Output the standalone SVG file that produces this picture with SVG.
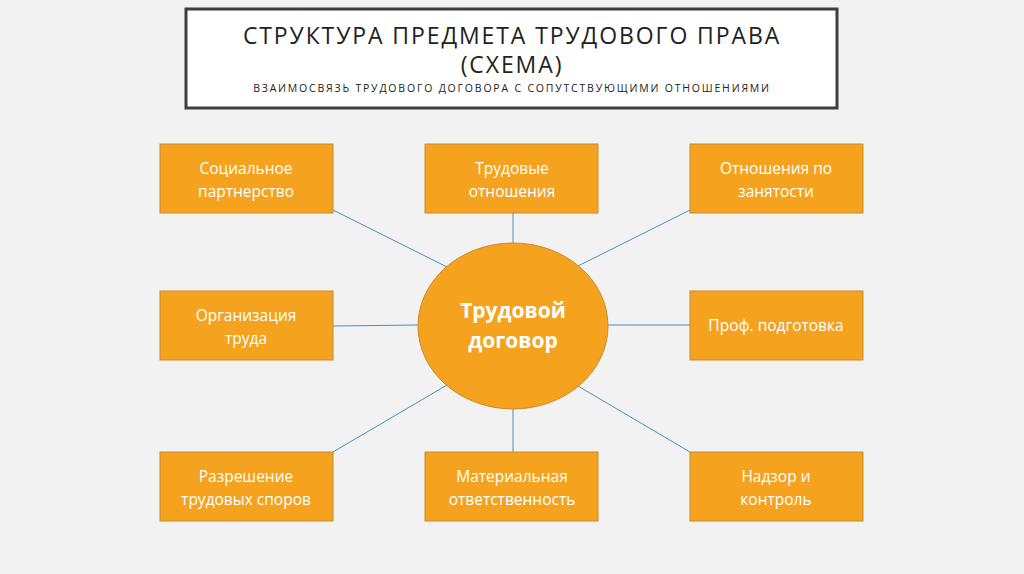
<svg xmlns="http://www.w3.org/2000/svg" width="1024" height="574" viewBox="0 0 1024 574">
<style>
.b{fill:#f5a31f;stroke:#c98a2a;stroke-width:1}
.t{font-family:"Open Sans",sans-serif;font-size:15.5px;fill:#fff;text-anchor:middle}
.c line{stroke:#4a90c0;stroke-width:1}
</style>
<rect width="1024" height="574" fill="#f2f2f2"/>
<g id="title">
<rect x="186" y="9" width="651" height="99" fill="#fff" stroke="#3f3f3f" stroke-width="3"/>
<text x="512" y="44" font-family="Open Sans,sans-serif" font-size="23" fill="#222" text-anchor="middle" letter-spacing="1.9">СТРУКТУРА ПРЕДМЕТА ТРУДОВОГО ПРАВА</text>
<text x="512" y="73" font-family="Open Sans,sans-serif" font-size="23" fill="#222" text-anchor="middle" letter-spacing="1.9">(СХЕМА)</text>
<text x="512" y="92" font-family="Open Sans,sans-serif" font-size="10.5" fill="#222" text-anchor="middle" letter-spacing="1.8">ВЗАИМОСВЯЗЬ ТРУДОВОГО ДОГОВОРА С СОПУТСТВУЮЩИМИ ОТНОШЕНИЯМИ</text>
</g>
<g class="c" id="connectors">
<line x1="333" y1="210" x2="447" y2="267"/>
<line x1="513" y1="213" x2="513" y2="244"/>
<line x1="690" y1="210" x2="578" y2="266"/>
<line x1="333" y1="326" x2="418" y2="325"/>
<line x1="608" y1="325" x2="690" y2="325"/>
<line x1="333" y1="452" x2="447" y2="385"/>
<line x1="513" y1="408" x2="513" y2="452"/>
<line x1="578" y1="386" x2="690" y2="452"/>
</g>
<g id="n1"><rect class="b" x="160" y="144" width="173" height="69"/><text class="t" x="246" y="174">Социальное</text><text class="t" x="246" y="197">партнерство</text></g>
<g id="n2"><rect class="b" x="425" y="144" width="173" height="69"/><text class="t" x="512" y="174">Трудовые</text><text class="t" x="512" y="197">отношения</text></g>
<g id="n3"><rect class="b" x="690" y="144" width="173" height="69"/><text class="t" x="776" y="174">Отношения по</text><text class="t" x="776" y="197">занятости</text></g>
<g id="n4"><rect class="b" x="160" y="291" width="173" height="69"/><text class="t" x="246" y="321">Организация</text><text class="t" x="246" y="344">труда</text></g>
<g id="n5"><rect class="b" x="690" y="291" width="173" height="69"/><text class="t" x="776" y="331">Проф. подготовка</text></g>
<g id="n6"><rect class="b" x="160" y="452" width="173" height="69"/><text class="t" x="246" y="482">Разрешение</text><text class="t" x="246" y="505">трудовых споров</text></g>
<g id="n7"><rect class="b" x="425" y="452" width="173" height="69"/><text class="t" x="512" y="482">Материальная</text><text class="t" x="512" y="505">ответственность</text></g>
<g id="n8"><rect class="b" x="690" y="452" width="173" height="69"/><text class="t" x="776" y="482">Надзор и</text><text class="t" x="776" y="505">контроль</text></g>
<g id="center"><ellipse cx="513" cy="326" rx="95" ry="83" fill="#f5a31f" stroke="#c98a2a"/>
<text class="t" x="513" y="318" style="font-size:21px;font-weight:bold">Трудовой</text>
<text class="t" x="513" y="348" style="font-size:21px;font-weight:bold">договор</text></g>
</svg>
